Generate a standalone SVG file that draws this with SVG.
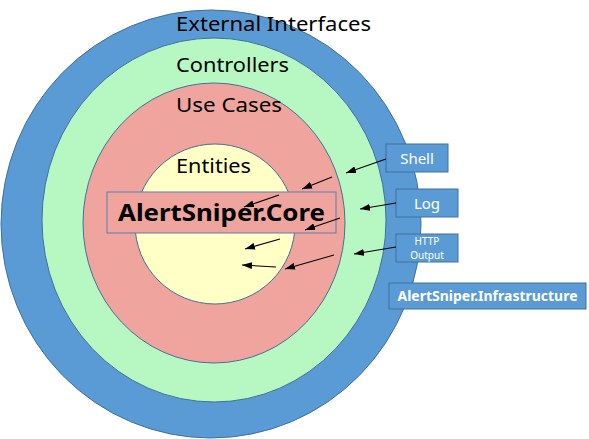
<svg xmlns="http://www.w3.org/2000/svg" width="589" height="439" viewBox="0 0 589 439">
  <style>
    .ring { stroke: #41719C; stroke-width: 1; }
    .lbl { font-family: "Noto Sans", "Noto Sans CJK KR", "DejaVu Sans", sans-serif; font-size: 20px; fill: #000; }
    .box { fill: #5B9BD5; stroke: #41719C; stroke-width: 1; }
    .btxt { font-family: "Noto Sans", "Noto Sans CJK KR", "DejaVu Sans", sans-serif; fill: #fff; text-anchor: middle; }
    .arr { stroke: #000; stroke-width: 1.1; fill: none; marker-end: url(#ah); }
  </style>
  <defs>
    <marker id="ah" viewBox="0 0 10 7" refX="10" refY="3.5" markerWidth="10" markerHeight="7" markerUnits="userSpaceOnUse" orient="auto">
      <path d="M0,0 L10,3.5 L0,7 z" fill="#000"/>
    </marker>
  </defs>
  <rect width="589" height="439" fill="#fff"/>

  <g id="external-interfaces">
    <ellipse class="ring" cx="211" cy="224" rx="210" ry="214" fill="#5B9BD5"/>
    <text class="lbl" x="176" y="31" textLength="195" lengthAdjust="spacingAndGlyphs">External Interfaces</text>
  </g>
  <g id="controllers">
    <ellipse class="ring" cx="214" cy="220" rx="172" ry="182" fill="#B7F8C2"/>
    <text class="lbl" x="176" y="72" textLength="113" lengthAdjust="spacingAndGlyphs">Controllers</text>
  </g>
  <g id="use-cases">
    <ellipse class="ring" cx="214" cy="223" rx="131" ry="140" fill="#EFA49E"/>
    <text class="lbl" x="176" y="112" textLength="106" lengthAdjust="spacingAndGlyphs">Use Cases</text>
  </g>
  <g id="entities">
    <circle class="ring" cx="215" cy="224" r="80" fill="#FFFFC6"/>
    <text class="lbl" x="176" y="173" textLength="75" lengthAdjust="spacingAndGlyphs">Entities</text>
  </g>

  <g id="alertsniper-core">
    <rect x="107" y="192" width="229" height="41" fill="#EFA49E" stroke="#5B7FB0" stroke-width="1"/>
    <text x="221.5" y="221" font-family="'Noto Sans', 'Noto Sans CJK KR', 'DejaVu Sans', sans-serif" font-size="24" font-weight="bold" fill="#000" text-anchor="middle" textLength="207" lengthAdjust="spacingAndGlyphs">AlertSniper.Core</text>
  </g>

  <g id="shell">
    <rect class="box" x="386" y="144" width="62" height="28"/>
    <text class="btxt" x="417" y="164" font-size="15">Shell</text>
  </g>
  <g id="log">
    <rect class="box" x="396" y="189" width="62" height="28"/>
    <text class="btxt" x="427" y="209" font-size="15">Log</text>
  </g>
  <g id="http-output">
    <rect class="box" x="396" y="234" width="62" height="28"/>
    <text class="btxt" x="427" y="245" font-size="10">HTTP</text>
    <text class="btxt" x="427" y="259" font-size="10">Output</text>
  </g>
  <g id="alertsniper-infrastructure">
    <rect class="box" x="389" y="283" width="197" height="26"/>
    <text class="btxt" x="487.5" y="301" font-size="14" font-weight="bold" textLength="180" lengthAdjust="spacingAndGlyphs">AlertSniper.Infrastructure</text>
  </g>

  <g id="connectors">
    <line class="arr" x1="386" y1="159" x2="346" y2="173"/>
    <line class="arr" x1="332" y1="177" x2="302" y2="189"/>
    <line class="arr" x1="279" y1="195" x2="244" y2="207"/>
    <line class="arr" x1="396" y1="203" x2="360" y2="209"/>
    <line class="arr" x1="340" y1="218" x2="305" y2="230"/>
    <line class="arr" x1="280" y1="239" x2="245" y2="249"/>
    <line class="arr" x1="396" y1="247" x2="354" y2="254"/>
    <line class="arr" x1="334" y1="255" x2="285" y2="269"/>
    <line class="arr" x1="276" y1="267" x2="242" y2="265"/>
  </g>
</svg>
